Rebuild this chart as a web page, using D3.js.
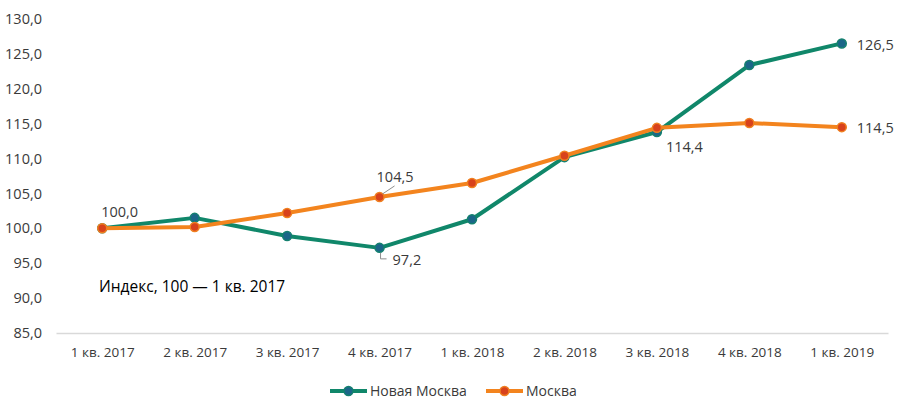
<!DOCTYPE html>
<html>
<head>
<meta charset="utf-8">
<script src="https://cdn.jsdelivr.net/npm/d3@7"></script>
<style>
  body { margin: 0; background: #fff; }
  svg { display: block; font-family: "Open Sans", sans-serif; }
</style>
</head>
<body>
<div id="chart"></div>
<script>
const WIDTH = 900;
const HEIGHT = 409;

const QUARTERS = ["1 кв. 2017", "2 кв. 2017", "3 кв. 2017", "4 кв. 2017",
  "1 кв. 2018", "2 кв. 2018", "3 кв. 2018", "4 кв. 2018", "1 кв. 2019"];
const NEW_MOSCOW = [100.0, 101.5, 98.9, 97.2, 101.3, 110.2, 113.8, 123.4, 126.5];
const MOSCOW = [100.0, 100.2, 102.2, 104.5, 106.5, 110.4, 114.4, 115.1, 114.5];
const Y_TICKS = [85, 90, 95, 100, 105, 110, 115, 120, 125, 130];

const SERIES = [
  { name: "Новая Москва", values: NEW_MOSCOW, line: "#10876a", dot: "#1b6688", edge: "#14806f" },
  { name: "Москва", values: MOSCOW, line: "#f3841e", dot: "#d8421c", edge: "#f08020" },
];

// value labels: [series index, point index, text, dx, dy]
const LABELS = [
  [1, 0, "100,0", -1, -16],
  [1, 3, "104,5", -3, -20],
  [0, 3, "97,2", 13, 12],
  [1, 6, "114,4", 9, 19],
  [0, 8, "126,5", 15, 2],
  [1, 8, "114,5", 15, 1],
];

const fmt = (v) => v.toFixed(1).replace(".", ",");

const x = d3.scalePoint().domain(QUARTERS).range([56, 888]).padding(0.5);
const y = d3.scaleLinear().domain([85, 130]).range([333, 19]);

const svg = d3.select("#chart").append("svg")
  .attr("width", WIDTH).attr("height", HEIGHT);

// y tick labels (no gridlines)
svg.append("g").selectAll("text").data(Y_TICKS).join("text")
  .attr("x", 42).attr("y", (d) => y(d)).attr("dy", "0.35em")
  .attr("text-anchor", "end")
  .style("font-size", "14.5px").style("fill", "#3a3a3a")
  .text(fmt);

// bottom axis
const xAxis = svg.append("g").attr("transform", `translate(0,${y(85)})`)
  .call(d3.axisBottom(x).tickSize(0).tickPadding(14));
xAxis.select(".domain").attr("stroke", "#d9d9d9").attr("stroke-width", 1.5);
xAxis.selectAll("text")
  .style("font-family", "Open Sans, sans-serif")
  .style("font-size", "13.5px").style("fill", "#3a3a3a");

const line = d3.line().x((d, i) => x(QUARTERS[i])).y((d) => y(d));

SERIES.forEach((s) => {
  svg.append("path").datum(s.values)
    .attr("fill", "none").attr("stroke", s.line)
    .attr("stroke-width", 4).attr("stroke-linejoin", "round")
    .attr("d", line);
  svg.append("g").selectAll("circle").data(s.values).join("circle")
    .attr("cx", (d, i) => x(QUARTERS[i])).attr("cy", (d) => y(d))
    .attr("r", 4.5).attr("fill", s.dot)
    .attr("stroke", s.edge).attr("stroke-width", 1.5);
});

// leader lines
const px = (i) => x(QUARTERS[i]);
svg.append("path")
  .attr("d", `M${px(3) + 3},${y(104.5) - 3} L${px(3) + 15},${y(104.5) - 11}`)
  .attr("stroke", "#8c8c8c").attr("fill", "none");
svg.append("path")
  .attr("d", `M${px(3) + 1},${y(97.2) + 5} V${y(97.2) + 11} H${px(3) + 7}`)
  .attr("stroke", "#8c8c8c").attr("fill", "none");

svg.append("g").selectAll("text").data(LABELS).join("text")
  .attr("x", (d) => px(d[1]) + d[3])
  .attr("y", (d) => y(SERIES[d[0]].values[d[1]]) + d[4])
  .attr("dy", "0.35em")
  .style("font-size", "14.5px").style("fill", "#3a3a3a")
  .text((d) => d[2]);

svg.append("text")
  .attr("x", 99).attr("y", 287).attr("dy", "0.35em")
  .style("font-size", "15.5px").style("fill", "#000")
  .text("Индекс, 100 — 1 кв. 2017");

// legend
const legend = svg.append("g").attr("transform", "translate(0,391)");
const LEGEND_X = [330, 486];
const item = legend.selectAll("g").data(SERIES).join("g")
  .attr("transform", (d, i) => `translate(${LEGEND_X[i]},0)`);
item.append("line").attr("x1", 0).attr("x2", 37)
  .attr("stroke", (d) => d.line).attr("stroke-width", 4);
item.append("circle").attr("cx", 18.5).attr("r", 4.5)
  .attr("fill", (d) => d.dot).attr("stroke", (d) => d.edge).attr("stroke-width", 1.5);
item.append("text").attr("x", 40).attr("dy", "0.35em")
  .style("font-size", "14px").style("fill", "#3a3a3a")
  .text((d) => d.name);
</script>
</body>
</html>
